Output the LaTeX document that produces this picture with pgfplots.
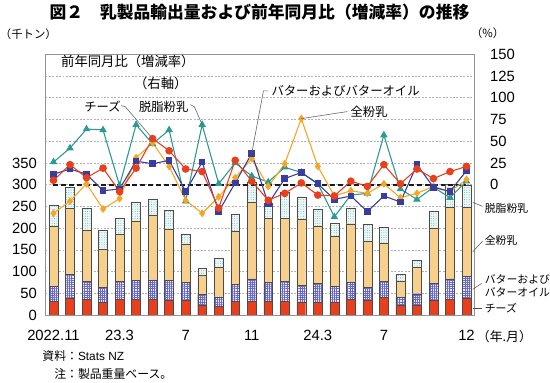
\documentclass[border=0pt]{standalone}
\usepackage{fontspec}
\setmainfont{Liberation Sans}
\newfontfamily\jp{Noto Sans CJK JP}
\usepackage{pgfplots}
\usepackage{pgfplotstable}
\pgfplotsset{compat=1.18}
\usetikzlibrary{patterns.meta,calc}

\definecolor{cheese}{HTML}{E8401C}
\definecolor{butter}{HTML}{4F4FC0}
\definecolor{wmp}{HTML}{F8D08E}
\definecolor{smp}{HTML}{EEF7F7}
\definecolor{tealc}{HTML}{2A9A93}
\definecolor{redc}{HTML}{E8401C}
\definecolor{bluec}{HTML}{3A3C9E}
\definecolor{orangec}{HTML}{F5A623}

\pgfplotstableread{
x  cheese butter wmp smp  teal red blue orange
0  32 35 137 48   26   5   12  -33
1  39 55 151 48   42  23   18  -19
2  36 41 119 50   64   8   12    1
3  30 34  87 45   63  19   -7  -28
4  36 41 109 37   -1  -8   -5  -16
5  36 43 138 42   69  19   27   31
6  37 44 148 38   47  53   24   48
7  34 45 119 44   63  39   28   21
8  34 41  89 22  -19  18   -8  -18
9  23 24  45 16   69  15   26  -33
10 20 22  67 21    1 -27  -31  -14
11 32 39 122 39   25  28    2    8
12 32 51 176 46   10   4   36   30
13 32 43 148 35    3 -18  -22   -2
14 32 45 146 59   20 -10    7   24
15 30 39 152 51   14   2   14   76
16 30 43 132 38    1 -12    1   21
17 30 37 115 29  -37 -13  -17  -13
18 37 39 134 36  -12   4  -13   -7
19 34 30 106 38  -10  -2  -31  -10
20 40 37  89 36   57  23  -13    1
21 23 18  36 17   -5   1  -20  -15
22 23 26  61 17  -17  18   23  -10
23 34 39 127 38   -3   7   -3   -2
24 36 47 164 54  -15  15   -8   -8
25 38 51 158 52    4  21   16    6
}\data

\begin{document}
\begin{tikzpicture}
\begin{axis}[
  name=ax,
  width=435pt, height=264pt, scale only axis,
  xmin=-0.5, xmax=25.5, ymin=0, ymax=600,
  ybar stacked, bar width=9pt,
  axis line style={draw=gray!85, line width=0.8pt},
  ytick={0,50,...,550},
  yticklabels={0,50,100,150,200,250,300,350,{},{},{},{}},
  ymajorgrids,
  major grid style={dash pattern=on 2pt off 1.5pt, gray!60, line width=0.6pt},
  xtick={0,4,8,12,16,20,25},
  xticklabels={2022.11,23.3,7,11,24.3,7,12},
  major tick length=0pt,
  tick label style={font=\fontsize{15}{17}\selectfont},
  yticklabel style={xshift=-5pt},
  xticklabel style={yshift=-12pt},
  /pgf/number format/assume math mode=true,
]
\addplot[fill=cheese, draw=black!70, line width=0.4pt] table[x=x,y=cheese]{\data};
\addplot[fill=butter!12, draw=black!70, line width=0.4pt, postaction={pattern={Hatch[distance=2.2pt, line width=0.5pt]}, pattern color=butter!85}] table[x=x,y=butter]{\data};
\addplot[fill=wmp, draw=black!70, line width=0.4pt] table[x=x,y=wmp]{\data};
\addplot[fill=smp, draw=black!70, line width=0.4pt, postaction={pattern={Dots[distance=2.4pt, radius=0.45pt]}, pattern color=tealc!80}] table[x=x,y=smp]{\data};
\end{axis}

\begin{axis}[
  width=435pt, height=264pt, scale only axis,
  xmin=-0.5, xmax=25.5, ymin=-150, ymax=150,
  axis y line*=right, axis x line=none,
  axis line style={draw=gray!85, line width=0.8pt},
  ytick={0,25,...,150},
  major tick length=0pt,
  tick label style={font=\fontsize{15}{17}\selectfont},
  yticklabel style={anchor=west, xshift=12pt},
  /pgf/number format/assume math mode=true,
  clip=false,
]
\addplot[black!90, line width=1.9pt, dash pattern=on 5pt off 3pt] coordinates {(0,0) (25,0)};
\addplot[tealc, line width=1.1pt, mark=triangle*, mark size=3.3pt, mark options={solid}] table[x=x,y=teal]{\data};
\addplot[orangec, line width=1.1pt, mark=diamond*, mark size=3.2pt] table[x=x,y=orange]{\data};
\addplot[bluec, line width=1.1pt, mark=square*, mark size=2.8pt] table[x=x,y=blue]{\data};
\addplot[redc, line width=1.1pt, mark=*, mark size=3.3pt] table[x=x,y=red]{\data};
\coordinate (r7) at (axis cs:6,53);
\coordinate (t10) at (axis cs:9,69);
\coordinate (b13) at (axis cs:12,36);
\coordinate (o16) at (axis cs:15,76);
\end{axis}

\begin{scope}[shift={(ax.south west)}, x=1pt, y=1pt]
\path (-44,-68) rectangle (506,319);
% title
\node[inner sep=0pt, font=\jp\bfseries\fontsize{17}{19}\selectfont] at (217,307) {図２　乳製品輸出量および前年同月比（増減率）の推移};
\node[anchor=west, inner sep=0pt, font=\jp\fontsize{11.5}{13}\selectfont] at (-46,284) {（千トン）};
\node[anchor=west, inner sep=0pt, font=\jp\fontsize{11.5}{13}\selectfont] at (431,285) {（\%）};
% inner annotations
\node[anchor=west, inner sep=0pt, font=\jp\fontsize{13.5}{15}\selectfont] at (16,257) {前年同月比（増減率）};
\node[inner sep=0pt, font=\jp\fontsize{13.5}{15}\selectfont] at (117,234) {（右軸）};
\node[inner sep=0pt, font=\jp\fontsize{12.5}{14}\selectfont] at (58,211) {チーズ};
\node[inner sep=0pt, font=\jp\fontsize{12.5}{14}\selectfont] at (120,211) {脱脂粉乳};
\node[anchor=west, inner sep=0pt, font=\jp\fontsize{12.5}{14}\selectfont] at (229,227) {バターおよびバターオイル};
\node[inner sep=0pt, font=\jp\fontsize{12.5}{14}\selectfont] at (328,206) {全粉乳};
\draw[gray!80!black, line width=0.6pt] (77,212) -- (81,211) -- (r7);
\draw[gray!80!black, line width=0.6pt] (147,213) -- (151,211) -- (t10);
\draw[gray!80!black, line width=0.6pt] (226,227) -- (221,227) -- (b13);
\draw[gray!80!black, line width=0.6pt] (306,206) -- (o16);
% right labels
\node[anchor=west, inner sep=0pt, font=\jp\fontsize{11}{12}\selectfont] at (445,108) {脱脂粉乳};
\node[anchor=west, inner sep=0pt, font=\jp\fontsize{11}{12}\selectfont] at (445,76) {全粉乳};
\node[anchor=west, inner sep=0pt, font=\jp\fontsize{11}{12}\selectfont] at (445,36) {バターおよび};
\node[anchor=west, inner sep=0pt, font=\jp\fontsize{11}{12}\selectfont] at (445,23) {バターオイル};
\node[anchor=west, inner sep=0pt, font=\jp\fontsize{11}{12}\selectfont] at (445,6.5) {チーズ};
\draw[black!70, line width=0.5pt] (433,114) -- (443,110);
\draw[black!70, line width=0.5pt] (433,64) -- (443,75);
\draw[black!70, line width=0.5pt] (433,26) -- (442,32);
\draw[black!70, line width=0.5pt] (433,6.5) -- (442,6.5);
% x unit
\node[anchor=west, inner sep=0pt, font=\jp\fontsize{13}{15}\selectfont] at (437,-22) {（年.月）};
% notes
\node[anchor=west, inner sep=0pt, font=\jp\fontsize{12}{14}\selectfont] at (-3,-42) {資料：{\rmfamily Stats NZ}};
\node[anchor=west, inner sep=0pt, font=\jp\fontsize{12}{14}\selectfont] at (9,-60) {注：製品重量ベース。};
\end{scope}
\end{tikzpicture}
\end{document}
